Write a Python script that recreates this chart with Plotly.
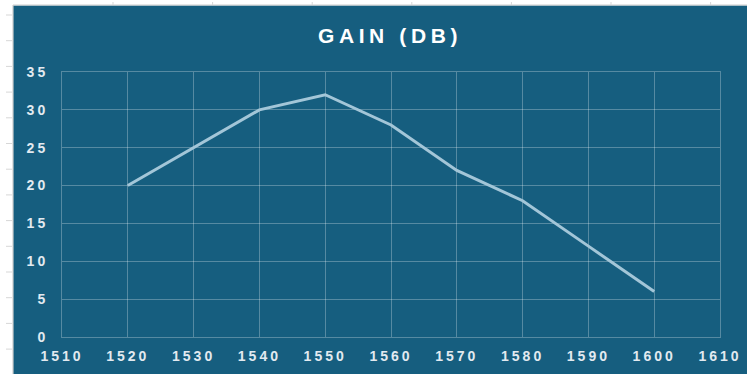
import plotly.graph_objects as go

# Data
wavelength = [1520, 1530, 1540, 1550, 1560, 1570, 1580, 1590, 1600]
gain_db = [20, 25, 30, 32, 28, 22, 18, 12, 6]
title_text = "GAIN (DB)"

W, H = 747, 374
ML, MR, MT, MB = 62, 27, 72, 37
PW, PH = W - ML - MR, H - MT - MB

BG = "rgb(22,94,127)"
GRID = "rgba(255,255,255,0.28)"
LINE = "rgb(163,198,216)"
TXT = "rgb(226,234,240)"


def px_x(p):
    return (p - ML) / PW


def px_y(p):
    return (H - MB - p) / PH


fig = go.Figure()
fig.add_trace(go.Scatter(
    x=wavelength, y=gain_db, mode="lines",
    line=dict(color=LINE, width=3), hoverinfo="x+y", showlegend=False,
))

shapes = []
# white spreadsheet strips outside the chart area
shapes.append(dict(type="rect", xref="paper", yref="paper",
                   x0=px_x(-5), x1=px_x(13), y0=px_y(H + 5), y1=px_y(-5),
                   fillcolor="white", line=dict(width=0)))
shapes.append(dict(type="rect", xref="paper", yref="paper",
                   x0=px_x(-5), x1=px_x(W + 5), y0=px_y(5.5), y1=px_y(-5),
                   fillcolor="white", line=dict(width=0)))
shapes.append(dict(type="line", xref="paper", yref="paper",
                   x0=px_x(13), x1=px_x(13), y0=px_y(H + 5), y1=px_y(5),
                   line=dict(color="rgb(205,205,205)", width=1.2)))
shapes.append(dict(type="line", xref="paper", yref="paper",
                   x0=px_x(13), x1=px_x(W + 5), y0=px_y(5), y1=px_y(5),
                   line=dict(color="rgb(205,205,205)", width=1.2)))
# spreadsheet row / column ticks
for k in range(14):
    yy = 15 + 25.7 * k
    shapes.append(dict(type="line", xref="paper", yref="paper",
                       x0=px_x(6), x1=px_x(12), y0=px_y(yy), y1=px_y(yy),
                       line=dict(color="rgb(215,215,215)", width=1)))
for k in range(7):
    xx = 113 + 99.6 * k
    shapes.append(dict(type="line", xref="paper", yref="paper",
                       x0=px_x(xx), x1=px_x(xx), y0=px_y(2), y1=px_y(5),
                       line=dict(color="rgb(215,215,215)", width=1)))

fig.update_layout(
    width=W, height=H,
    margin=dict(l=ML, r=MR, t=MT, b=MB, pad=0, autoexpand=False),
    paper_bgcolor=BG, plot_bgcolor=BG,
    shapes=shapes,
    title=dict(text=title_text, x=0.4985, xref="paper", xanchor="center",
               y=(H - 36) / H, yref="container", yanchor="middle",
               font=dict(family="Liberation Sans, Arial, sans-serif", size=21,
                         color="white", weight="bold")),
    font=dict(family="Liberation Sans, Arial, sans-serif", size=14, color=TXT,
              weight="bold"),
    xaxis=dict(range=[1510, 1610], dtick=10, tick0=1510, showgrid=True,
               gridcolor=GRID, gridwidth=1, zeroline=False, showline=True,
               linecolor=GRID, linewidth=1, mirror=True, ticks="",
               ticklabelstandoff=6, fixedrange=True, automargin=False),
    yaxis=dict(range=[0, 35], dtick=5, tick0=0, showgrid=True,
               gridcolor=GRID, gridwidth=1, zeroline=False, showline=True,
               linecolor=GRID, linewidth=1, mirror=True, ticks="",
               ticklabelstandoff=10, fixedrange=True, automargin=False),
)

post = """
document.body.style.margin='0';
document.body.style.padding='0';
var gd = document.getElementById('{plot_id}');
function ls(){
  gd.querySelectorAll('.xtick text, .ytick text').forEach(function(t){t.style.letterSpacing='3px';});
  gd.querySelectorAll('.gtitle').forEach(function(t){t.style.letterSpacing='4.6px';});
}
ls();
if (gd.on) { gd.on('plotly_afterplot', ls); }
"""

fig.write_html("out.html", post_script=post, config={"displayModeBar": False})
